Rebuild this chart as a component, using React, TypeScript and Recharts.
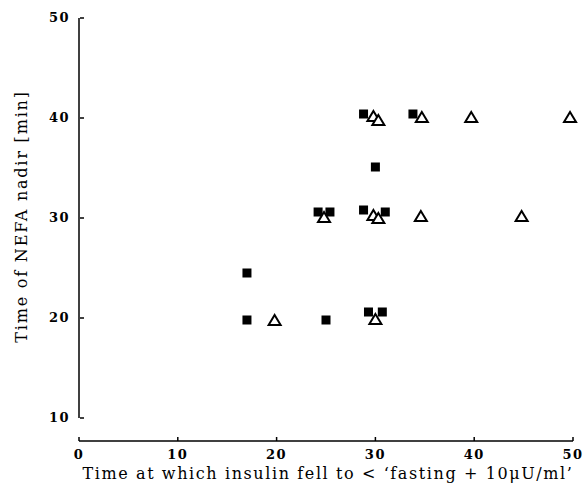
import React from 'react';
import { ScatterChart, Scatter, XAxis, YAxis, ReferenceLine } from 'recharts';

const squareX = [17, 17, 25, 29.3, 30.7, 24.2, 25.4, 28.8, 31, 30, 28.8, 33.8];
const squareY = [24.5, 19.8, 19.8, 20.6, 20.6, 30.6, 30.6, 30.8, 30.6, 35.1, 40.4, 40.4];
const triX = [19.8, 30, 24.8, 29.8, 30.3, 34.6, 44.8, 29.8, 30.3, 34.7, 39.7, 49.7];
const triY = [19.8, 19.9, 30.1, 30.3, 30.0, 30.2, 30.2, 40.2, 39.8, 40.1, 40.1, 40.1];
const xTicks = [0, 10, 20, 30, 40, 50];
const yTicks = [10, 20, 30, 40, 50];
const xTitle = "Time at which insulin fell to < \u2018fasting + 10\u03bcU/ml\u2019";
const yTitle = 'Time of NEFA nadir [min]';

const squares = squareX.map((x, i) => ({ x, y: squareY[i] }));
const triangles = triX.map((x, i) => ({ x, y: triY[i] }));

const FONT = '"DejaVu Serif", "Liberation Serif", serif';

const SquareShape = (props: any) => {
  const { cx, cy } = props;
  return <rect x={cx - 4.5} y={cy - 4.5} width={9} height={9} fill="#000" />;
};

const TriShape = (props: any) => {
  const { cx, cy } = props;
  const w = 12, h = 10;
  return (
    <path
      d={`M${cx},${cy - h / 2} L${cx + w / 2},${cy + h / 2} L${cx - w / 2},${cy + h / 2} Z`}
      fill="#fff"
      stroke="#000"
      strokeWidth={2}
      strokeLinejoin="miter"
    />
  );
};

const YTick = (props: any) => {
  const { x, y, payload } = props;
  return (
    <g>
      <line x1={x + 9} x2={x + 13} y1={y} y2={y} stroke="#000" strokeWidth={1.5} />
      <text x={x - 1} y={y + 4} textAnchor="end" fontFamily={FONT} fontWeight="bold" fontSize={13} letterSpacing={1.5} fill="#000">
        {payload.value}
      </text>
    </g>
  );
};

const XTick = (props: any) => {
  const { x, y, payload } = props;
  return (
    <g>
      <line x1={x} x2={x} y1={y - 12} y2={y - 8} stroke="#000" strokeWidth={1.5} />
      <text x={x} y={y + 10} textAnchor="middle" fontFamily={FONT} fontWeight="bold" fontSize={13} letterSpacing={1.5} fill="#000">
        {payload.value}
      </text>
    </g>
  );
};

const XTitle = (props: any) => {
  const { viewBox } = props;
  const cx = viewBox.x + viewBox.width / 2 + 2;
  return (
    <text x={cx} y={479} textAnchor="middle" fontFamily={FONT} fontSize={16} letterSpacing={1.6} fill="#000">
      {xTitle}
    </text>
  );
};

const YTitle = (props: any) => {
  const { viewBox } = props;
  const cy = viewBox.y + viewBox.height / 2 - 13;
  return (
    <text x={27} y={cy} transform={`rotate(-90, 27, ${cy})`} textAnchor="middle" fontFamily={FONT} fontSize={16} letterSpacing={1.8} fill="#000">
      {yTitle}
    </text>
  );
};

export default function App() {
  return (
    <div style={{ position: 'absolute', left: 0, top: 0, background: '#fff' }}>
      <ScatterChart width={587} height={487} margin={{ top: 18, right: 14, bottom: 0, left: 0 }}>
        <XAxis
          type="number"
          dataKey="x"
          domain={[0, 50]}
          ticks={xTicks}
          interval={0}
          axisLine={{ stroke: '#000', strokeWidth: 1.5 }}
          tickLine={false}
          tick={<XTick />}
          height={46}
          label={<XTitle />}
        />
        <YAxis
          type="number"
          dataKey="y"
          domain={[7.7, 50]}
          ticks={yTicks}
          interval={0}
          axisLine={false}
          tickLine={false}
          tick={<YTick />}
          width={79}
          allowDataOverflow
          label={<YTitle />}
        />
        <ReferenceLine segment={[{ x: 0, y: 10 }, { x: 0, y: 50 }]} stroke="#000" strokeWidth={1.5} />
        <Scatter data={squares} shape={<SquareShape />} isAnimationActive={false} />
        <Scatter data={triangles} shape={<TriShape />} isAnimationActive={false} />
      </ScatterChart>
    </div>
  );
}
